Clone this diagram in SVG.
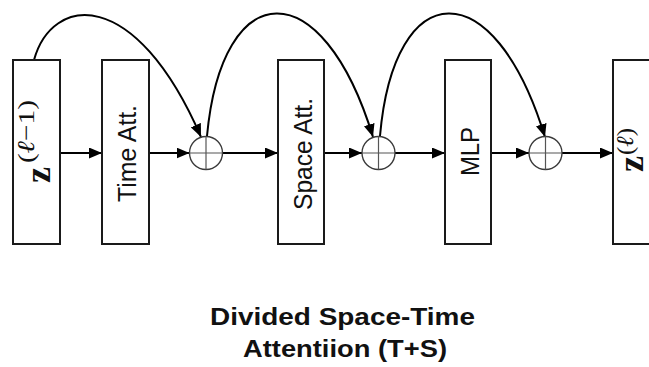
<svg xmlns="http://www.w3.org/2000/svg" width="649" height="367" viewBox="0 0 649 367">
  <style>
    .box { fill: #ffffff; stroke: #1a1a1a; stroke-width: 2; }
    .sum { fill: #ffffff; stroke: #3a3a3a; stroke-width: 1.4; }
    .cross { stroke: #555555; stroke-width: 1.2; }
    .edge { fill: none; stroke: #000000; stroke-width: 2; marker-end: url(#arrow); }
    .lbl { font-family: "Liberation Sans", Arial, sans-serif; font-size: 26.5px; fill: #111111; }
    .mathz { font-family: "Liberation Serif", "DejaVu Serif", serif; font-weight: bold; font-size: 36px; fill: #111111; }
    .sup { font-family: "Liberation Serif", "DejaVu Serif", serif; font-size: 24px; fill: #111111; }
    .title { font-family: "Liberation Sans", Arial, sans-serif; font-weight: bold; font-size: 24.5px; fill: #111111; }
  </style>
  <defs>
    <marker id="arrow" markerUnits="userSpaceOnUse" markerWidth="13" markerHeight="11" refX="13" refY="5.5" orient="auto">
      <path d="M0,0 L13,5.5 L0,11 z" fill="#000000"/>
    </marker>
  </defs>

  <!-- connectors -->
  <g id="connectors">
    <path class="edge" d="M60,153 L102,153"/>
    <path class="edge" d="M149,153 L189.5,153"/>
    <path class="edge" d="M222.5,153 L278,153"/>
    <path class="edge" d="M324,153 L362,153"/>
    <path class="edge" d="M395,153 L445,153"/>
    <path class="edge" d="M491,153 L529,153"/>
    <path class="edge" d="M562,153 L613,153"/>
    <!-- residual skip connections -->
    <path class="edge" d="M34,60 C52,-5 135,-15 201,137"/>
    <path class="edge" d="M207,136 C222,-25 322,-30 373,137"/>
    <path class="edge" d="M380,136 C394,-25 494,-30 545,137"/>
  </g>

  <!-- input embedding z^(l-1) -->
  <g id="node-z-in">
    <rect class="box" x="13" y="60" width="47" height="184"/>
    <text class="mathz" transform="translate(50,183) rotate(-90)">z</text>
    <text class="sup" transform="translate(34,163) rotate(-90)" textLength="63" lengthAdjust="spacingAndGlyphs">(<tspan font-style="italic">ℓ</tspan>−1)</text>
  </g>

  <g id="node-time-att">
    <rect class="box" x="102" y="60" width="47" height="184"/>
    <text class="lbl" transform="translate(135.5,202) rotate(-90)" textLength="97" lengthAdjust="spacingAndGlyphs">Time Att.</text>
  </g>

  <g id="node-sum-1">
    <circle class="sum" cx="206" cy="153" r="16.5"/>
    <line class="cross" x1="189.5" y1="153" x2="222.5" y2="153"/>
    <line class="cross" x1="206" y1="136.5" x2="206" y2="169.5"/>
  </g>

  <g id="node-space-att">
    <rect class="box" x="278" y="60" width="46" height="184"/>
    <text class="lbl" transform="translate(311.5,210) rotate(-90)" textLength="112" lengthAdjust="spacingAndGlyphs">Space Att.</text>
  </g>

  <g id="node-sum-2">
    <circle class="sum" cx="378.5" cy="153" r="16.5"/>
    <line class="cross" x1="362" y1="153" x2="395" y2="153"/>
    <line class="cross" x1="378.5" y1="136.5" x2="378.5" y2="169.5"/>
  </g>

  <g id="node-mlp">
    <rect class="box" x="445" y="60" width="46" height="184"/>
    <text class="lbl" transform="translate(478.5,176) rotate(-90)" textLength="49" lengthAdjust="spacingAndGlyphs">MLP</text>
  </g>

  <g id="node-sum-3">
    <circle class="sum" cx="545.5" cy="153" r="16.5"/>
    <line class="cross" x1="529" y1="153" x2="562" y2="153"/>
    <line class="cross" x1="545.5" y1="136.5" x2="545.5" y2="169.5"/>
  </g>

  <!-- output embedding z^(l) -->
  <g id="node-z-out">
    <rect class="box" x="613" y="60" width="47" height="184"/>
    <text class="mathz" transform="translate(642.5,172) rotate(-90)" font-size="30">z</text>
    <text class="sup" transform="translate(633,155) rotate(-90)" font-size="22" textLength="27" lengthAdjust="spacingAndGlyphs">(<tspan font-style="italic">ℓ</tspan>)</text>
  </g>

  <g id="caption">
    <text class="title" x="210" y="325" textLength="265" lengthAdjust="spacingAndGlyphs">Divided Space-Time</text>
    <text class="title" x="243" y="357" textLength="204" lengthAdjust="spacingAndGlyphs">Attentiion (T+S)</text>
  </g>
</svg>
